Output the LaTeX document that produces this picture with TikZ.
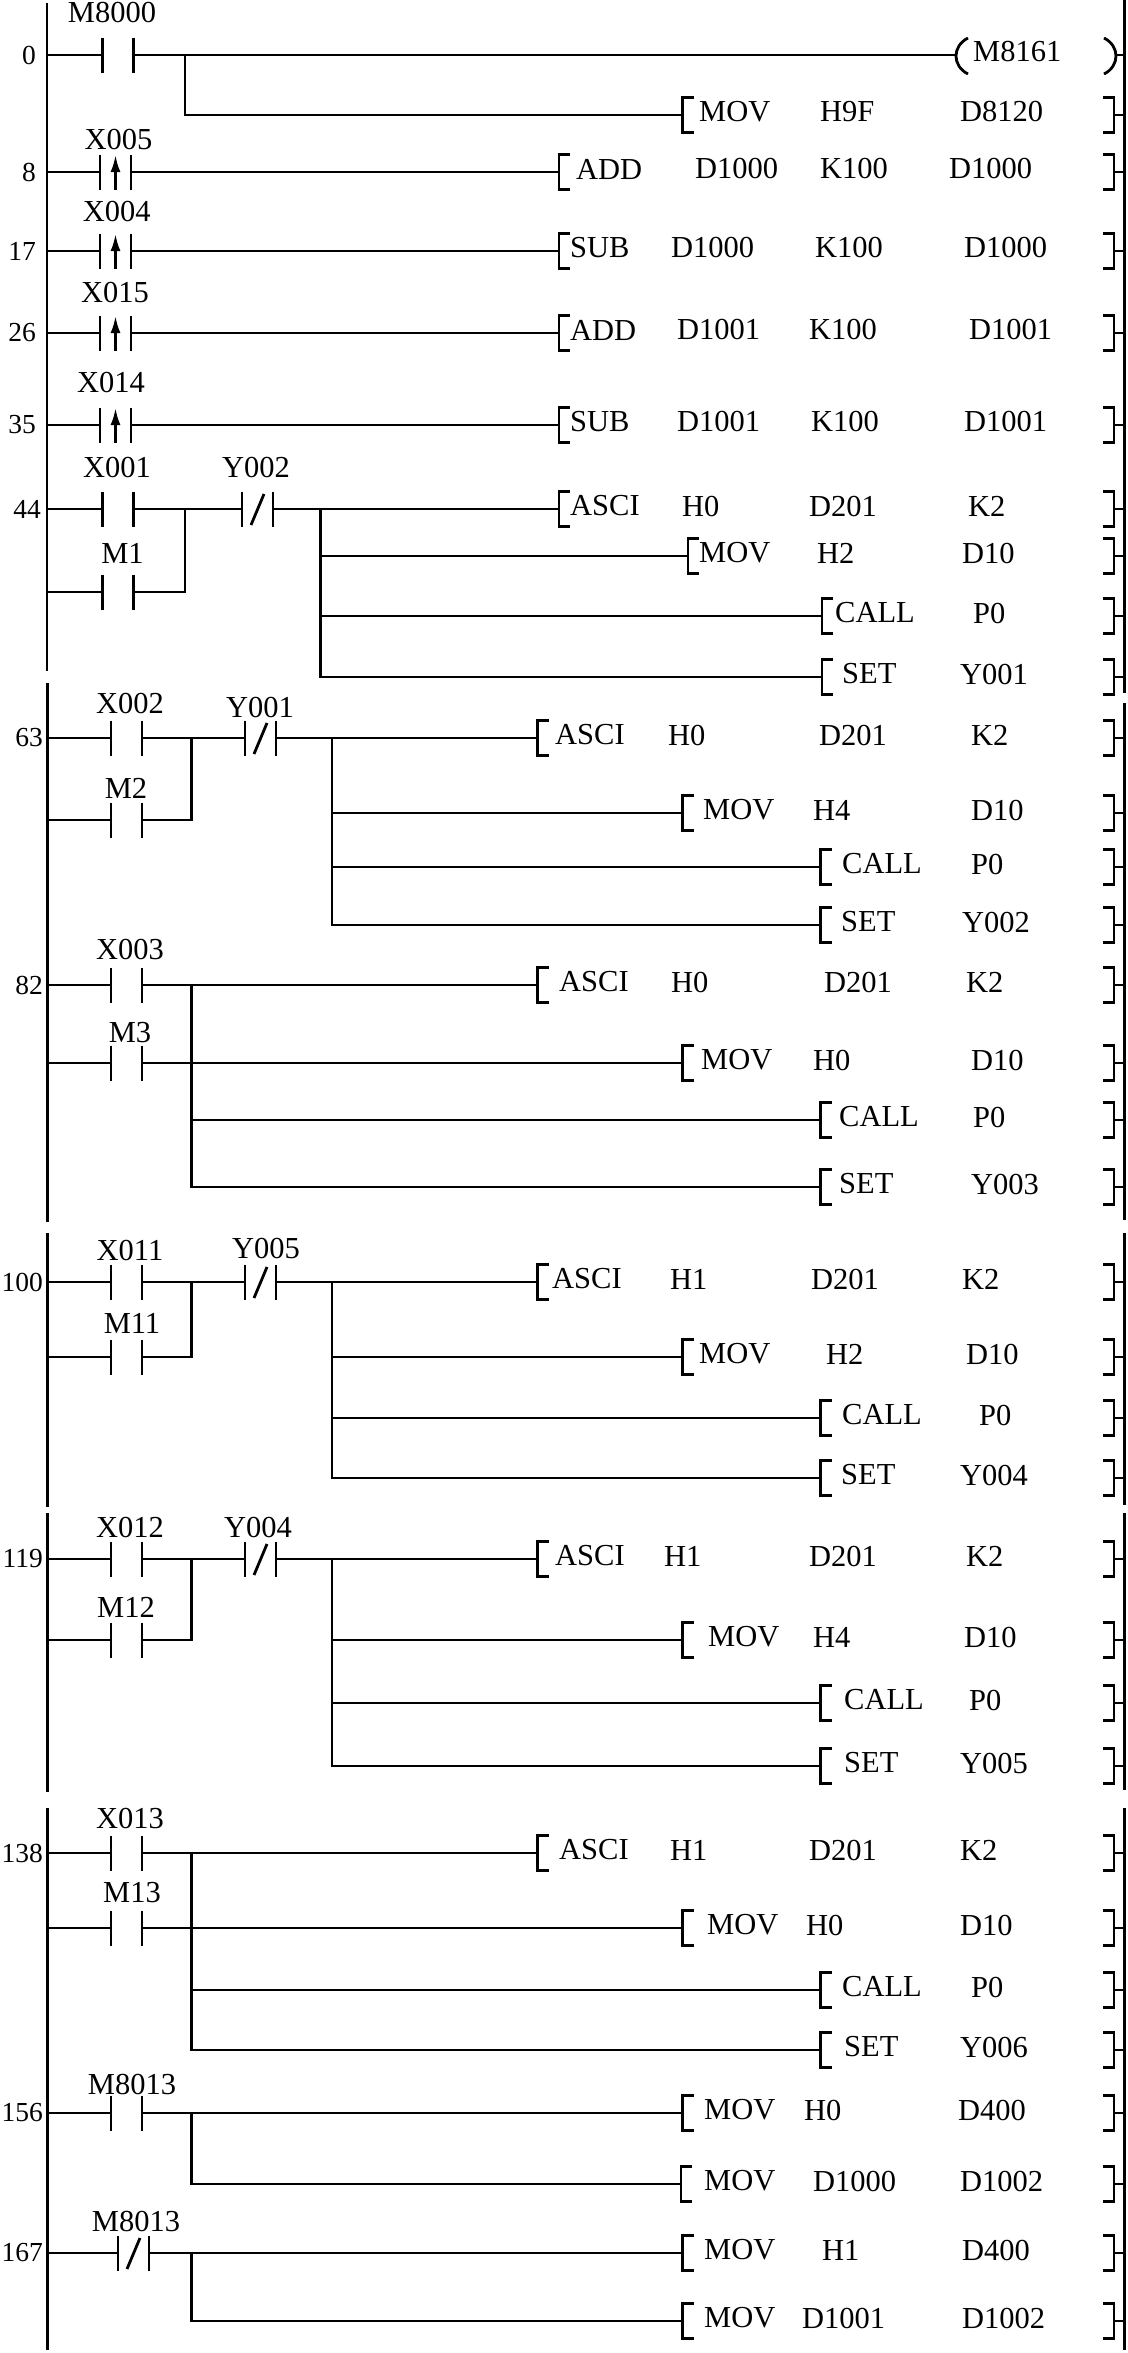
\documentclass[tikz,border=0pt]{standalone}
\usepackage{fontspec}
\setmainfont{Liberation Serif}
\usetikzlibrary{arrows.meta}
\tikzset{
  wire/.style={line width=2.6pt},
  thinw/.style={line width=1.6pt},
  bar/.style={line width=2.8pt},
  txt/.style={inner sep=0pt, font=\fontsize{30.5}{36}\selectfont},
  numtxt/.style={inner sep=0pt, anchor=east, font=\fontsize{27.5}{33}\selectfont},
}
% normally open contact, left bar at x
\newcommand\NOc[2]{\draw[bar] (#1,#2-17.5) -- (#1,#2+17.5) (#1+31,#2-17.5) -- (#1+31,#2+17.5);}
% normally closed contact
\newcommand\NCc[2]{\NOc{#1}{#2}\draw[bar] (#1+9,#2+16) -- (#1+22,#2-15);}
% rising edge contact
\newcommand\PLSc[2]{\NOc{#1}{#2}\draw[line width=2.6pt,-{Latex[length=17pt,width=10pt]}] (#1+15.5,#2+17.5) -- (#1+15.5,#2-17);}
% left bracket
\newcommand\LBk[2]{\draw[bar] (#1+11,#2-17.5) -- (#1,#2-17.5) -- (#1,#2+17.5) -- (#1+11,#2+17.5);}
% right bracket with link to the rail
\newcommand\RBk[1]{\draw[bar] (1103,#1-17.5) -- (1114,#1-17.5) -- (1114,#1+17.5) -- (1103,#1+17.5); \draw[wire] (1114,#1) -- (1124.5,#1);}
% instruction text
\newcommand\Tx[4]{\node[txt,anchor=west] (#1) at (#2,#3-3) {#4};}
\newcommand\Lb[4]{\node[txt] (#1) at (#2,#3) {#4};}
\newcommand\Num[4]{\node[numtxt] (#1) at (#2,#3) {#4};}
\begin{document}
\begin{tikzpicture}[x=1pt,y=-1pt]
\useasboundingbox (0,0) rectangle (1127,2353);
\fill[white] (0,0) rectangle (1127,2353);
% ---------------- rails
\draw[wire] (47,3) -- (47,671) (47.5,683) -- (47.5,1222) (47.5,1233) -- (47.5,1507) (47.5,1513) -- (47.5,1792) (47.5,1808) -- (47.5,2350);
\draw[wire] (1124.5,0) -- (1124.5,693) (1124.5,703) -- (1124.5,1220) (1124.5,1233) -- (1124.5,1505) (1124.5,1513) -- (1124.5,1790) (1124.5,1808) -- (1124.5,2350);
% ---------------- rung 0
\Lb{l0}{112}{13}{M8000}
\Num{n0}{36}{55}{0}
\draw[wire] (47,55) -- (102.6,55); \NOc{102.6}{55} \draw[wire] (133.6,55) -- (956,55);
\draw[bar] (968,38) .. controls (952,46) and (952,66) .. (968,74);
\draw[bar] (1104,38) .. controls (1120,46) and (1120,66) .. (1104,74);
\draw[wire] (1117,55) -- (1124.5,55);
\Tx{c0}{973}{55}{M8161}
\draw[wire] (185,55) -- (185,115) -- (682.5,115);
\LBk{682.5}{115} \Tx{a0a}{699}{115}{MOV} \Tx{a0b}{820}{115}{H9F} \Tx{a0c}{960}{115}{D8120} \RBk{115}
% ---------------- rung 8
\Lb{l8}{118.6}{140}{X005}
\Num{n8}{36}{172}{8}
\draw[thinw] (47,172) -- (100,172); \PLSc{100}{172} \draw[thinw] (131,172) -- (559,172);
\LBk{559}{172} \Tx{a8a}{576}{172}{ADD} \Tx{a8b}{695}{172}{D1000} \Tx{a8c}{820}{172}{K100} \Tx{a8d}{949}{172}{D1000} \RBk{172}
% ---------------- rung 17
\Lb{l17}{116.7}{212}{X004}
\Num{n17}{36}{251}{17}
\draw[wire] (47,251) -- (100,251); \PLSc{100}{251} \draw[wire] (131,251) -- (559,251);
\LBk{559}{251} \Tx{a17a}{570}{251}{SUB} \Tx{a17b}{671}{251}{D1000} \Tx{a17c}{815}{251}{K100} \Tx{a17d}{964}{251}{D1000} \RBk{251}
% ---------------- rung 26
\Lb{l26}{115}{293}{X015}
\Num{n26}{36}{333}{26}
\draw[wire] (47,333) -- (100,333); \PLSc{100}{333} \draw[wire] (131,333) -- (559,333);
\LBk{559}{333} \Tx{a26a}{570}{333}{ADD} \Tx{a26b}{677}{333}{D1001} \Tx{a26c}{809}{333}{K100} \Tx{a26d}{969}{333}{D1001} \RBk{333}
% ---------------- rung 35
\Lb{l35}{111}{383}{X014}
\Num{n35}{36}{425}{35}
\draw[thinw] (47,425) -- (100,425); \PLSc{100}{425} \draw[thinw] (131,425) -- (559,425);
\LBk{559}{425} \Tx{a35a}{570}{425}{SUB} \Tx{a35b}{677}{425}{D1001} \Tx{a35c}{811}{425}{K100} \Tx{a35d}{964}{425}{D1001} \RBk{425}
% ---------------- rung 44
\Lb{l44a}{117}{468}{X001} \Lb{l44b}{256}{468}{Y002} \Lb{l44c}{122.5}{553}{M1}
\Num{n44}{41}{509}{44}
\draw[wire] (47,509) -- (102.6,509); \NOc{102.6}{509} \draw[wire] (133.6,509) -- (242,509); \NCc{242}{509} \draw[wire] (273,509) -- (559,509);
\draw[wire] (47,592) -- (102.6,592); \NOc{102.6}{592} \draw[wire] (133.6,592) -- (185,592) -- (185,509);
\draw[wire] (320.7,509) -- (320.7,677) -- (822,677);
\draw[wire] (320.7,556) -- (688,556);
\draw[wire] (320.7,616) -- (822,616);
\LBk{559}{509} \Tx{a44a}{570}{509}{ASCI} \Tx{a44b}{682}{509}{H0} \Tx{a44c}{809}{509}{D201} \Tx{a44d}{968}{509}{K2} \RBk{509}
\LBk{688}{556} \Tx{b44a}{699}{556}{MOV} \Tx{b44b}{817}{556}{H2} \Tx{b44c}{962}{556}{D10} \RBk{556}
\LBk{822}{616} \Tx{c44a}{835}{616}{CALL} \Tx{c44b}{973}{616}{P0} \RBk{616}
\LBk{822}{677} \Tx{d44a}{842}{677}{SET} \Tx{d44b}{960}{677}{Y001} \RBk{677}
% ---------------- rung 63
\Lb{l63a}{130}{703}{X002} \Lb{l63b}{260}{707}{Y001} \Lb{l63c}{126}{788}{M2}
\Num{n63}{43}{738}{63}
\draw[wire] (47.5,738) -- (111,738); \NOc{111}{738} \draw[wire] (142,738) -- (245,738); \NCc{245}{738} \draw[wire] (276,738) -- (537.7,738);
\draw[wire] (47.5,820) -- (111,820); \NOc{111}{820} \draw[wire] (142,820) -- (191.7,820) -- (191.7,738);
\draw[wire] (331.8,738) -- (331.8,925) -- (820.5,925);
\draw[wire] (331.8,813) -- (682.5,813);
\draw[wire] (331.8,867) -- (820.5,867);
\LBk{537.7}{738} \Tx{a63a}{555}{738}{ASCI} \Tx{a63b}{668}{738}{H0} \Tx{a63c}{819}{738}{D201} \Tx{a63d}{971}{738}{K2} \RBk{738}
\LBk{682.5}{813} \Tx{b63a}{703}{813}{MOV} \Tx{b63b}{813}{813}{H4} \Tx{b63c}{971}{813}{D10} \RBk{813}
\LBk{820.5}{867} \Tx{c63a}{842}{867}{CALL} \Tx{c63b}{971}{867}{P0} \RBk{867}
\LBk{820.5}{925} \Tx{d63a}{841}{925}{SET} \Tx{d63b}{962}{925}{Y002} \RBk{925}
% ---------------- rung 82
\Lb{l82a}{130}{949}{X003} \Lb{l82b}{130}{1033}{M3}
\Num{n82}{43}{985}{82}
\draw[wire] (47.5,985) -- (111,985); \NOc{111}{985} \draw[wire] (142,985) -- (537.7,985);
\draw[wire] (47.5,1063) -- (111,1063); \NOc{111}{1063} \draw[wire] (142,1063) -- (191.4,1063);
\draw[thinw] (191.4,1063) -- (682.5,1063);
\draw[wire] (191.4,985) -- (191.4,1187) -- (820.5,1187);
\draw[wire] (191.4,1120) -- (820.5,1120);
\LBk{537.7}{985} \Tx{a82a}{559}{985}{ASCI} \Tx{a82b}{671}{985}{H0} \Tx{a82c}{824}{985}{D201} \Tx{a82d}{966}{985}{K2} \RBk{985}
\LBk{682.5}{1063} \Tx{b82a}{701}{1063}{MOV} \Tx{b82b}{813}{1063}{H0} \Tx{b82c}{971}{1063}{D10} \RBk{1063}
\LBk{820.5}{1120} \Tx{c82a}{839}{1120}{CALL} \Tx{c82b}{973}{1120}{P0} \RBk{1120}
\LBk{820.5}{1187} \Tx{d82a}{839}{1187}{SET} \Tx{d82b}{971}{1187}{Y003} \RBk{1187}
% ---------------- rung 100
\Lb{l100a}{130}{1250}{X011} \Lb{l100b}{266}{1248}{Y005} \Lb{l100c}{132}{1323}{M11}
\Num{n100}{43}{1282}{100}
\draw[thinw] (47.5,1282) -- (111,1282); \NOc{111}{1282} \draw[thinw] (142,1282) -- (245,1282); \NCc{245}{1282} \draw[thinw] (276,1282) -- (537.7,1282);
\draw[thinw] (47.5,1357) -- (111,1357); \NOc{111}{1357} \draw[wire] (142,1357) -- (191.4,1357) -- (191.4,1282);
\draw[wire] (331.8,1282) -- (331.8,1478) -- (820.5,1478);
\draw[wire] (331.8,1357) -- (682.5,1357);
\draw[wire] (331.8,1418) -- (820.5,1418);
\LBk{537.7}{1282} \Tx{a100a}{552}{1282}{ASCI} \Tx{a100b}{670}{1282}{H1} \Tx{a100c}{811}{1282}{D201} \Tx{a100d}{962}{1282}{K2} \RBk{1282}
\LBk{682.5}{1357} \Tx{b100a}{699}{1357}{MOV} \Tx{b100b}{826}{1357}{H2} \Tx{b100c}{966}{1357}{D10} \RBk{1357}
\LBk{820.5}{1418} \Tx{c100a}{842}{1418}{CALL} \Tx{c100b}{979}{1418}{P0} \RBk{1418}
\LBk{820.5}{1478} \Tx{d100a}{841}{1478}{SET} \Tx{d100b}{960}{1478}{Y004} \RBk{1478}
% ---------------- rung 119
\Lb{l119a}{130}{1527}{X012} \Lb{l119b}{258}{1527}{Y004} \Lb{l119c}{126}{1607}{M12}
\Num{n119}{43}{1559}{119}
\draw[wire] (47.5,1559) -- (111,1559); \NOc{111}{1559} \draw[wire] (142,1559) -- (245,1559); \NCc{245}{1559} \draw[wire] (276,1559) -- (537.7,1559);
\draw[wire] (47.5,1640) -- (111,1640); \NOc{111}{1640} \draw[wire] (142,1640) -- (191.4,1640) -- (191.4,1559);
\draw[wire] (331.8,1559) -- (331.8,1766) -- (820.5,1766);
\draw[wire] (331.8,1640) -- (682.5,1640);
\draw[wire] (331.8,1703) -- (820.5,1703);
\LBk{537.7}{1559} \Tx{a119a}{555}{1559}{ASCI} \Tx{a119b}{664}{1559}{H1} \Tx{a119c}{809}{1559}{D201} \Tx{a119d}{966}{1559}{K2} \RBk{1559}
\LBk{682.5}{1640} \Tx{b119a}{708}{1640}{MOV} \Tx{b119b}{813}{1640}{H4} \Tx{b119c}{964}{1640}{D10} \RBk{1640}
\LBk{820.5}{1703} \Tx{c119a}{844}{1703}{CALL} \Tx{c119b}{969}{1703}{P0} \RBk{1703}
\LBk{820.5}{1766} \Tx{d119a}{844}{1766}{SET} \Tx{d119b}{960}{1766}{Y005} \RBk{1766}
% ---------------- rung 138
\Lb{l138a}{130}{1818}{X013} \Lb{l138b}{132}{1893}{M13}
\Num{n138}{43}{1853}{138}
\draw[wire] (47.5,1853) -- (111,1853); \NOc{111}{1853} \draw[wire] (142,1853) -- (537.7,1853);
\draw[wire] (47.5,1928) -- (111,1928); \NOc{111}{1928} \draw[wire] (142,1928) -- (682.5,1928);
\draw[wire] (191.4,1853) -- (191.4,2050) -- (820.5,2050);
\draw[wire] (191.4,1990) -- (820.5,1990);
\LBk{537.7}{1853} \Tx{a138a}{559}{1853}{ASCI} \Tx{a138b}{670}{1853}{H1} \Tx{a138c}{809}{1853}{D201} \Tx{a138d}{960}{1853}{K2} \RBk{1853}
\LBk{682.5}{1928} \Tx{b138a}{707}{1928}{MOV} \Tx{b138b}{806}{1928}{H0} \Tx{b138c}{960}{1928}{D10} \RBk{1928}
\LBk{820.5}{1990} \Tx{c138a}{842}{1990}{CALL} \Tx{c138b}{971}{1990}{P0} \RBk{1990}
\LBk{820.5}{2050} \Tx{d138a}{844}{2050}{SET} \Tx{d138b}{960}{2050}{Y006} \RBk{2050}
% ---------------- rung 156
\Lb{l156}{132}{2084}{M8013}
\Num{n156}{43}{2113}{156}
\draw[wire] (47.5,2113) -- (111,2113); \NOc{111}{2113} \draw[wire] (142,2113) -- (191.4,2113);
\draw[thinw] (191.4,2113) -- (682.5,2113);
\draw[wire] (191.4,2113) -- (191.4,2184) -- (681,2184);
\LBk{682.5}{2113} \Tx{a156a}{704}{2113}{MOV} \Tx{a156b}{804}{2113}{H0} \Tx{a156c}{958}{2113}{D400} \RBk{2113}
\LBk{681}{2184} \Tx{b156a}{704}{2184}{MOV} \Tx{b156b}{813}{2184}{D1000} \Tx{b156c}{960}{2184}{D1002} \RBk{2184}
% ---------------- rung 167
\Lb{l167}{136}{2221}{M8013}
\Num{n167}{43}{2253}{167}
\draw[wire] (47.5,2253) -- (118,2253); \NCc{118}{2253} \draw[wire] (149,2253) -- (682.5,2253);
\draw[wire] (191.4,2253) -- (191.4,2321) -- (682.5,2321);
\LBk{682.5}{2253} \Tx{a167a}{704}{2253}{MOV} \Tx{a167b}{822}{2253}{H1} \Tx{a167c}{962}{2253}{D400} \RBk{2253}
\LBk{682.5}{2321} \Tx{b167a}{704}{2321}{MOV} \Tx{b167b}{802}{2321}{D1001} \Tx{b167c}{962}{2321}{D1002} \RBk{2321}
\end{tikzpicture}
\end{document}
